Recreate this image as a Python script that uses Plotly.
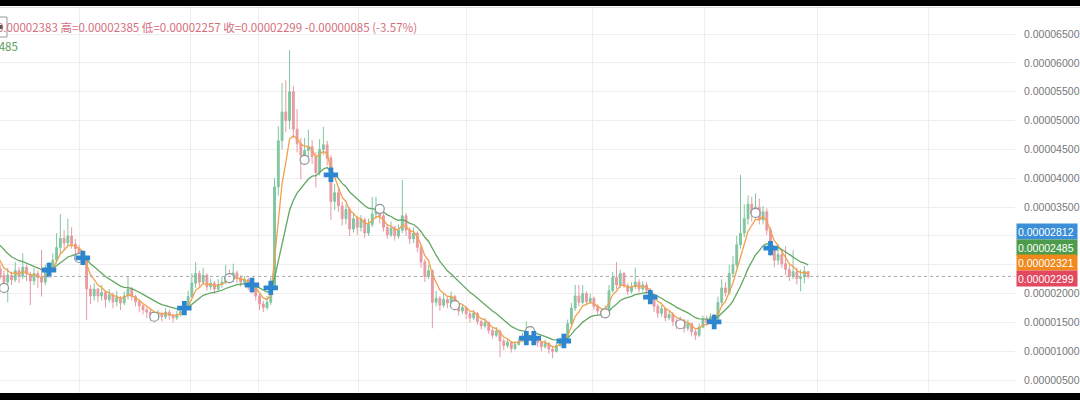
import plotly.graph_objects as go
import pandas as pd

SCALE = 1e-6  # values below are in units of 0.000001

# candle index (negative = candles left of the visible window)
first_index = -10
first_open = 30.0

close = [
    30.5, 31.8, 32.4, 30.6, 31.2, 29.4, 27.2, 25.6, 24.3, 23.2,
    22.0, 23.2, 22.4, 24.0, 23.0, 24.6, 23.4, 22.2, 23.5, 22.8, 22.0, 23.8,
    24.4, 25.8, 28.0, 29.6, 28.8, 30.0, 28.6, 27.8, 27.0,
    26.2, 20.8, 19.6,
    20.8, 19.6, 20.2, 19.0, 19.8, 18.6, 19.3, 18.4, 19.6,
    20.8, 19.5,
    18.6, 17.9, 17.2, 16.8, 16.2, 16.0,
    16.5, 16.0, 16.8, 16.2, 15.8, 16.4, 16.9,
    17.8, 19.5, 21.8, 23.5, 22.0, 23.2,
    21.2, 21.8, 20.8, 21.6, 22.0,
    23.0, 22.5, 23.6,
    22.8, 22.0, 22.4, 21.4,
    21.0, 19.6, 18.2, 17.6,
    18.5, 21.2,
    38.5, 46.5, 51.5, 50.0, 55.0, 48.5, 46.0, 44.0,
    44.8, 45.5, 43.8, 41.0, 45.0, 45.8, 43.5,
    36.0, 37.5, 35.2, 33.0, 34.6, 31.2, 33.0, 31.5, 32.8, 30.5, 32.0, 33.8, 34.6,
    33.5, 31.5, 30.2, 31.4, 30.0, 31.0, 33.5, 31.0, 29.5, 30.5, 28.0, 25.5, 23.0, 24.0,
    18.5, 19.2, 18.0, 19.0, 18.4, 19.5, 18.2, 17.0, 17.6, 16.5, 15.8, 16.6, 15.2,
    14.4, 15.0, 13.6, 12.8, 13.5, 11.8, 11.0, 11.6, 10.5, 11.2, 11.8, 12.6, 13.4,
    12.8, 12.2, 11.6, 10.8, 11.4, 10.4, 10.0, 11.0, 11.8, 12.2,
    14.8, 17.5, 19.6, 18.5, 20.0, 18.6, 19.2, 17.8, 17.0, 16.4, 17.2,
    20.5, 22.8, 21.5, 23.5, 21.4, 20.4, 21.2, 22.0, 20.8, 21.5, 20.6, 19.8,
    17.8, 16.6, 17.4, 15.8, 16.4, 15.2, 14.6, 15.4, 14.0, 14.8, 13.4, 12.8, 14.2,
    15.6, 15.0, 16.0, 15.6,
    18.5, 21.0, 20.2, 23.5, 25.0, 28.5, 30.5, 33.0, 35.5, 33.8, 35.0, 32.8, 34.2, 31.0,
    27.5, 25.8, 26.8, 25.2, 24.2, 23.0, 23.8, 22.6, 22.9, 23.84, 22.99,
]

high = [
    31.5, 33.0, 33.5, 32.8, 32.0, 31.5, 29.8, 27.8, 26.0, 25.0,
    24.0, 24.5, 23.8, 25.5, 24.6, 27.0, 25.0, 23.8, 24.5, 24.0, 27.6, 25.0,
    25.5, 27.0, 30.5, 33.8, 31.0, 33.0, 31.5, 29.5, 28.5,
    27.5, 26.5, 21.5,
    21.8, 21.0, 21.5, 20.6, 20.8, 20.2, 20.5, 19.6, 20.4,
    23.0, 21.2,
    19.8, 19.0, 18.2, 17.6, 17.2, 16.8,
    17.2, 16.9, 17.5, 17.2, 16.6, 17.0, 17.6,
    18.6, 20.5, 23.5, 25.5, 24.0, 24.5,
    23.5, 22.6, 22.2, 22.5, 23.0,
    25.0, 24.2, 25.2,
    24.0, 23.2, 23.0, 22.8,
    22.0, 21.3, 20.0, 18.8,
    19.6, 22.8,
    40.0, 49.0, 56.5, 57.0, 62.2, 56.0, 52.0, 47.0,
    47.0, 48.4, 46.6, 44.5, 46.8, 48.9, 46.5,
    44.0, 39.0, 38.5, 36.0, 35.5, 35.0, 34.0, 33.5, 33.6, 33.2, 33.0, 36.8, 36.8,
    35.2, 34.0, 32.0, 32.5, 31.8, 32.0, 39.7, 34.0, 31.5, 31.5, 30.8, 28.5, 26.0, 25.0,
    24.2, 20.5, 19.6, 20.0, 19.5, 20.4, 19.8, 18.4, 18.2, 17.8, 16.8, 17.2, 16.8,
    15.4, 15.8, 15.2, 14.0, 14.2, 13.8, 12.2, 12.2, 11.8, 11.8, 12.4, 13.2, 15.2,
    13.8, 13.2, 12.5, 11.8, 12.0, 11.6, 10.8, 11.6, 12.4, 13.0,
    15.5, 18.4, 21.5, 21.5, 21.5, 20.4, 20.0, 19.5, 18.2, 17.4, 18.0,
    21.5, 23.8, 25.5, 24.2, 23.8, 21.8, 22.0, 24.5, 22.5, 22.2, 22.0, 21.0,
    20.0, 18.2, 18.0, 17.6, 17.0, 16.8, 15.6, 16.0, 15.6, 15.5, 15.0, 13.8, 14.8,
    16.2, 16.2, 16.6, 16.5,
    19.5, 22.5, 22.0, 25.0, 26.5, 30.0, 40.6, 35.5, 37.0, 36.8, 37.4, 36.5, 35.2, 34.8,
    31.5, 28.0, 28.6, 27.6, 28.2, 25.0, 27.5, 24.5, 24.2, 24.8, 23.85,
]

low = [
    29.5, 30.2, 31.0, 30.0, 30.0, 28.8, 26.8, 25.0, 23.5, 22.5,
    20.5, 18.5, 21.5, 22.0, 21.8, 22.5, 22.2, 18.0, 21.5, 21.0, 19.5, 21.5,
    23.2, 23.8, 25.2, 27.0, 27.5, 28.0, 27.8, 26.8, 26.0,
    25.5, 15.4, 18.2,
    18.8, 18.5, 18.8, 17.6, 18.5, 17.5, 17.8, 17.2, 18.0,
    19.0, 18.8,
    17.8, 16.8, 16.4, 15.8, 15.2, 15.0,
    15.5, 15.2, 15.6, 15.5, 15.0, 15.4, 16.0,
    16.5, 17.5, 19.2, 21.0, 21.2, 21.5,
    20.5, 20.6, 20.0, 20.4, 21.0,
    21.6, 21.8, 22.0,
    21.8, 21.2, 21.4, 20.6,
    20.0, 18.8, 17.2, 16.8,
    17.2, 18.0,
    20.8, 37.0, 45.0, 48.0, 48.5, 47.0, 44.5, 39.8,
    42.8, 43.5, 42.5, 38.4, 40.5, 44.0, 42.2,
    32.8, 34.5, 34.2, 31.8, 32.0, 30.0, 30.6, 30.2, 30.8, 29.6, 30.0, 31.5, 33.0,
    32.2, 30.8, 29.5, 29.8, 29.2, 29.5, 30.5, 30.0, 28.6, 28.8, 27.2, 24.5, 22.0, 22.5,
    14.0, 17.8, 17.0, 17.6, 17.5, 18.0, 17.4, 16.2, 16.5, 15.6, 15.0, 15.4, 14.6,
    13.8, 14.0, 13.0, 12.2, 12.5, 9.0, 10.2, 10.6, 9.8, 10.2, 11.0, 11.6, 12.4,
    12.0, 11.5, 10.8, 10.0, 10.5, 9.6, 8.8, 9.8, 10.8, 11.4,
    12.0, 14.5, 17.0, 17.8, 18.2, 18.0, 18.2, 17.2, 16.4, 15.8, 16.2,
    17.0, 20.2, 20.8, 21.0, 21.0, 19.8, 20.0, 20.8, 20.2, 20.4, 19.8, 19.0,
    16.8, 15.8, 16.0, 15.2, 15.4, 14.4, 13.8, 14.2, 13.2, 13.5, 12.6, 12.0, 12.5,
    14.0, 14.4, 14.8, 14.8,
    15.2, 18.0, 19.5, 19.8, 22.8, 24.5, 27.8, 29.8, 32.0, 32.5, 33.0, 32.0, 32.0, 30.2,
    26.5, 24.6, 25.0, 24.5, 23.2, 22.2, 22.5, 21.6, 20.4, 21.8, 22.57,
]

# signal markers (index, value)
cross_idx = [12, 21, 48, 66, 71, 87, 139, 141, 149, 172, 189, 204]
cross_val = [24.1, 26.2, 17.5, 21.5, 21.0, 40.6, 12.3, 12.3, 11.8, 19.4, 15.1, 27.9]
circle_idx = [0, 20, 40, 60, 80, 100, 120, 140, 160, 180, 200]
circle_val = [21.0, 26.2, 16.0, 22.7, 43.2, 34.7, 18.0, 13.5, 16.6, 14.7, 34.0]

# y-axis ticks (two labels are hidden behind the last-value tags)
ytick_vals = [5, 10, 15, 20, 25, 30, 35, 40, 45, 50, 55, 60, 65]
ytick_hidden = [25, 30]
# x grid positions (period boundaries)
xgrid_vals = [20.2, 49.7, 67.7, 94.3, 123.2, 156.7, 186.5, 216.5, 245.9]

header_text = "开=0.00002383 高=0.00002385 低=0.00002257 收=0.00002299 -0.00000085 (-3.57%)"
legend_tail = "0.00002485"
last_labels = [("0.00002812", 28.12, "#3b8fd9"), ("0.00002485", 24.85, "#4d9c4b"),
               ("0.00002321", 23.21, "#f08a1c"), ("0.00002299", 22.99, "#e2485e")]

# ---------------------------------------------------------------
n = len(close)
idx = list(range(first_index, first_index + n))
opn = [first_open] + close[:-1]
hi = [max(h, o, c) for h, o, c in zip(high, opn, close)]
lo = [min(l, o, c) for l, o, c in zip(low, opn, close)]

s = pd.Series(close)
ema_fast = (s.ewm(span=5, adjust=False).mean() * SCALE).tolist()
ema_slow = (s.ewm(span=15, adjust=False).mean() * SCALE).tolist()

sc = lambda a: [v * SCALE for v in a]

YMIN, YMAX = 1.57, 70.9
XMIN, XMAX = -1.06, 269.05
W, H = 1080, 400
ML, MR, MT, MB = 0, 63, 0, 0
pw = W - ML - MR

fig = go.Figure()
fig.add_trace(go.Candlestick(
    x=idx, open=sc(opn), high=sc(hi), low=sc(lo), close=sc(close),
    increasing=dict(line=dict(color="#80c6a0", width=1), fillcolor="#80c6a0"),
    decreasing=dict(line=dict(color="#e79aa1", width=1), fillcolor="#e79aa1"),
    whiskerwidth=0, showlegend=False, hoverinfo="skip"))
fig.add_trace(go.Scatter(x=idx, y=ema_fast, mode="lines", line=dict(color="#f2a04a", width=1.3),
                         showlegend=False, hoverinfo="skip"))
fig.add_trace(go.Scatter(x=idx, y=ema_slow, mode="lines", line=dict(color="#62a862", width=1.3),
                         showlegend=False, hoverinfo="skip"))
fig.add_trace(go.Scatter(x=circle_idx, y=sc(circle_val), mode="markers",
                         marker=dict(symbol="circle", size=9, color="white",
                                     line=dict(color="#8a9499", width=1.2)),
                         showlegend=False, hoverinfo="skip"))
fig.add_trace(go.Scatter(x=cross_idx, y=sc(cross_val), mode="markers",
                         marker=dict(symbol="cross", size=12, color="#2f86d0",
                                     line=dict(width=0)),
                         showlegend=False, hoverinfo="skip"))

last_close = close[-1] * SCALE
shapes = [
    dict(type="line", xref="paper", yref="y", x0=0, x1=1, y0=last_close, y1=last_close,
         line=dict(color="#a8a8a8", width=1, dash="dot"), layer="above"),
    dict(type="rect", xref="paper", yref="paper", x0=-0.01, x1=1.1, y0=1 - 6 / H, y1=1.02,
         fillcolor="black", line=dict(width=0), layer="above"),
    dict(type="rect", xref="paper", yref="paper", x0=-0.01, x1=1.1, y0=-0.02, y1=7 / H,
         fillcolor="black", line=dict(width=0), layer="above"),
    dict(type="line", xref="paper", yref="paper", x0=0, x1=1.1, y0=1 - 7.5 / H, y1=1 - 7.5 / H,
         line=dict(color="#dddddd", width=1), layer="above"),
]

def ypx(v):
    return (YMAX - v) / (YMAX - YMIN) * (H - MT - MB) + MT

annotations = [
    dict(xref="paper", yref="paper", x=0, y=1 - 27 / H, xanchor="left", yanchor="middle",
         xshift=-23, text=header_text, showarrow=False,
         font=dict(size=11.55, color="#d4707c", family="Noto Sans CJK SC")),
    dict(xref="paper", yref="paper", x=0, y=1 - 46 / H, xanchor="left", yanchor="middle",
         xshift=-45, text=legend_tail, showarrow=False,
         font=dict(size=11.55, color="#5c9e58", family="Noto Sans CJK SC")),
]
# small legend toggle icon at the top-left edge
shapes.append(dict(type="rect", xref="paper", yref="paper", x0=-3 / pw, x1=7 / pw,
                   y0=1 - 37 / H, y1=1 - 17 / H, fillcolor="white",
                   line=dict(color="#9a9a9a", width=1), layer="above"))
shapes.append(dict(type="rect", xref="paper", yref="paper", x0=0 / pw, x1=3 / pw,
                   y0=1 - 29 / H, y1=1 - 25 / H, fillcolor="#555555",
                   line=dict(width=0), layer="above"))

targets = [231, 247, 262.5, 278]
for (txt, val, col), tgt in zip(last_labels, targets):
    annotations.append(dict(
        xref="paper", yref="y", x=1, y=val * SCALE, xanchor="left", yanchor="middle",
        xshift=1, yshift=ypx(val) - tgt, text=txt, showarrow=False,
        bgcolor=col, width=58, height=13, align="left", borderpad=1,
        font=dict(size=10.5, color="white", family="Liberation Sans")))

ytext = ["" if v in ytick_hidden else f"{v * SCALE:.8f}" for v in ytick_vals]

fig.update_layout(
    width=W, height=H, margin=dict(l=ML, r=MR, t=MT, b=MB),
    paper_bgcolor="white", plot_bgcolor="white",
    xaxis=dict(range=[XMIN, XMAX], rangeslider=dict(visible=False), showticklabels=False,
               tickvals=xgrid_vals, showgrid=True, gridcolor="#eeeeee", gridwidth=1,
               zeroline=False, showline=False, ticks=""),
    yaxis=dict(range=[YMIN * SCALE, YMAX * SCALE], side="right", tickvals=sc(ytick_vals),
               ticktext=ytext, showgrid=True, gridcolor="#eeeeee", gridwidth=1,
               zeroline=False, showline=False, ticks="", ticklabelstandoff=8,
               tickfont=dict(size=10.5, color="#777777", family="Liberation Sans")),
    shapes=shapes, annotations=annotations, hovermode=False,
)

fig.write_html("out.html", config={"displayModeBar": False},
               post_script="document.body.style.margin='0';")
